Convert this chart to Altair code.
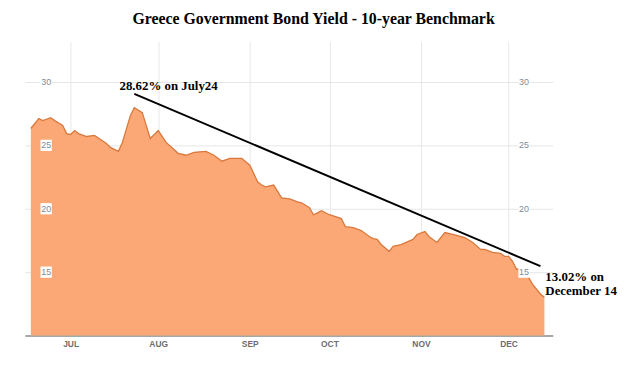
import altair as alt
import numpy as np
import pandas as pd

# ---- data ----
dates = ["2012-06-18","2012-06-20","2012-06-21","2012-06-25","2012-06-26","2012-06-28","2012-06-29",
         "2012-07-02","2012-07-03","2012-07-04","2012-07-06","2012-07-10","2012-07-13","2012-07-16",
         "2012-07-18","2012-07-19","2012-07-23","2012-07-24","2012-07-26","2012-07-27","2012-07-30",
         "2012-08-01","2012-08-03","2012-08-08","2012-08-10","2012-08-14","2012-08-17","2012-08-21",
         "2012-08-23","2012-08-27","2012-08-30",
         "2012-09-03","2012-09-05","2012-09-06","2012-09-07","2012-09-11","2012-09-13","2012-09-17",
         "2012-09-19","2012-09-20","2012-09-24","2012-09-25","2012-09-26","2012-09-27",
         "2012-10-01","2012-10-04","2012-10-05","2012-10-09","2012-10-11","2012-10-15","2012-10-16",
         "2012-10-17","2012-10-18","2012-10-22","2012-10-23","2012-10-25","2012-10-30","2012-10-31",
         "2012-11-02","2012-11-05","2012-11-07","2012-11-09","2012-11-13","2012-11-16","2012-11-20",
         "2012-11-22","2012-11-23","2012-11-27","2012-11-29","2012-11-30",
         "2012-12-03","2012-12-04","2012-12-05","2012-12-06","2012-12-07","2012-12-10","2012-12-11",
         "2012-12-13","2012-12-14"]
yields = [26.33,27.11,26.95,27.18,26.95,26.56,25.93,
          25.86,26.17,25.93,25.70,25.78,25.15,24.84,24.53,25.23,27.34,27.97,27.58,26.56,25.54,
          26.17,25.23,24.37,24.22,24.45,24.53,24.22,23.75,23.98,23.98,
          23.43,22.11,21.87,21.72,21.87,20.86,20.78,20.54,20.47,20.08,19.53,19.68,19.84,
          19.53,19.22,18.59,18.51,18.28,17.81,17.65,17.58,17.18,16.64,17.03,17.18,17.58,17.97,
          18.20,17.81,17.34,18.12,17.97,17.73,17.34,16.79,16.79,16.56,16.48,16.25,
          16.25,15.86,15.23,15.23,15.08,14.61,14.06,13.28,13.02]

month_labels = ["JUL", "AUG", "SEP", "OCT", "NOV", "DEC"]
month_dates = ["2012-07-02", "2012-08-01", "2012-09-03", "2012-10-01", "2012-11-01", "2012-12-03"]
y_ticks = [15, 20, 25, 30]

trend_dates = ["2012-07-24", "2012-12-13"]
trend_values = [29.06, 15.47]

title_text = "Greece Government Bond Yield - 10-year Benchmark"
peak_text = "28.62% on July24"
last_text = "13.02% on\nDecember 14"

# ---- trading-day positions ----
start = "2012-06-18"
def tday(d):
    return int(np.busday_count(start, d))

df = pd.DataFrame({"date": dates, "yield": yields})
df["t"] = [tday(d) for d in dates]

month_pos = [tday(d) for d in month_dates]
label_expr = " : ".join(f"datum.value == {p} ? '{m}'" for p, m in zip(month_pos, month_labels)) + " : ''"

trend_df = pd.DataFrame({"t0": [tday(trend_dates[0])], "t1": [tday(trend_dates[1])],
                         "v0": [trend_values[0]], "v1": [trend_values[1]]})
peak_df = pd.DataFrame({"t": [tday(trend_dates[0])], "v": [trend_values[0]], "txt": [peak_text]})
last_df = pd.DataFrame({"t": [tday(trend_dates[1])], "v": [trend_values[1]], "txt": [last_text]})
ticks_df = pd.DataFrame({"v": y_ticks, "lab": [str(v) for v in y_ticks]})

xscale = alt.Scale(domain=[-1.5, 131.1], nice=False, zero=False)
yscale = alt.Scale(domain=[10, 33.2], nice=False, zero=False)

area = alt.Chart(df).mark_area(
    clip=True, color="#fca876", opacity=1,
    line={"color": "#d9783c", "strokeWidth": 1.3},
).encode(
    x=alt.X("t:Q", scale=xscale, axis=alt.Axis(
        values=month_pos, labelExpr=label_expr, grid=True, gridColor="#e8e8e8",
        ticks=False, domainColor="#8a8a8a", domainWidth=1.5, labelFontSize=8.5,
        labelFontWeight="bold", labelColor="#6e6e6e", labelFont="Liberation Sans",
        labelPadding=4, title=None)),
    y=alt.Y("yield:Q", scale=yscale, axis=alt.Axis(
        values=y_ticks, labels=False, ticks=False, domain=False, grid=True,
        gridColor="#e6e6e6", title=None)),
)

trend = alt.Chart(trend_df).mark_rule(color="black", strokeWidth=2).encode(
    x=alt.X("t0:Q", scale=xscale), x2="t1:Q",
    y=alt.Y("v0:Q", scale=yscale), y2="v1:Q",
)

peak_lbl = alt.Chart(peak_df).mark_text(
    font="Liberation Serif", fontWeight="bold", fontSize=13, color="black",
    align="left", baseline="alphabetic", dx=-15, dy=-4,
).encode(x=alt.X("t:Q", scale=xscale), y=alt.Y("v:Q", scale=yscale), text="txt:N")

last_lbl = alt.Chart(last_df).mark_text(
    font="Liberation Serif", fontWeight="bold", fontSize=13, color="black",
    align="left", baseline="alphabetic", dx=5, dy=15, lineBreak="\n", lineHeight=14,
).encode(x=alt.X("t:Q", scale=xscale), y=alt.Y("v:Q", scale=yscale), text="txt:N")

def ylabels(px):
    box = alt.Chart(ticks_df).mark_square(size=130, color="white", opacity=1).encode(
        x=alt.value(px), y=alt.Y("v:Q", scale=yscale))
    txt = alt.Chart(ticks_df).mark_text(
        font="Liberation Sans", fontSize=9, color="#7f8c99", align="center", baseline="middle"
    ).encode(x=alt.value(px), y=alt.Y("v:Q", scale=yscale), text="lab:N")
    return box + txt

chart = alt.layer(
    area, trend, ylabels(21.5), ylabels(504), peak_lbl, last_lbl
).properties(
    width=533, height=297,
    autosize=alt.AutoSizeParams(type="none"),
    padding={"left": 17, "top": 32, "right": 80, "bottom": 25},
    title=alt.Title(title_text, font="Liberation Serif", fontWeight="bold", fontSize=16,
                    color="black", anchor="middle", dx=25, offset=2,
                    baseline="alphabetic", frame="group"),
).configure_view(stroke=None)

chart.save("out.html", embed_options={"renderer": "svg", "actions": False})
